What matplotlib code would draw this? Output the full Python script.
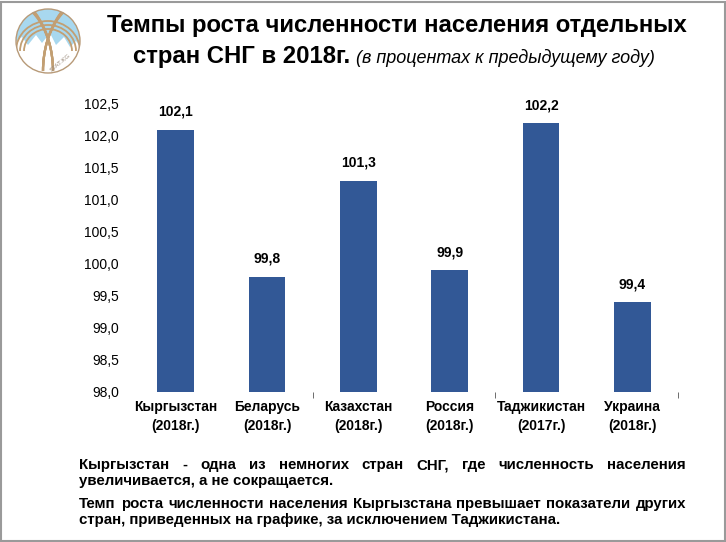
import numpy as np
import matplotlib
matplotlib.use("Agg")
import matplotlib.pyplot as plt
from matplotlib.patches import Rectangle, Circle, Polygon, Arc
from matplotlib.ticker import FixedLocator

# data
countries = ["Кыргызстан\n(2018г.)", "Беларусь\n(2018г.)", "Казахстан\n(2018г.)",
             "Россия\n(2018г.)", "Таджикистан\n(2017г.)", "Украина\n(2018г.)"]
growth = [102.1, 99.8, 101.3, 99.9, 102.2, 99.4]
y_ticks = [98.0, 98.5, 99.0, 99.5, 100.0, 100.5, 101.0, 101.5, 102.0, 102.5]

W, H = 726, 542
fig = plt.figure(figsize=(W / 100, H / 100), dpi=100)
fig.patch.set_facecolor("white")

sans = ["Liberation Sans", "DejaVu Sans"]

# slide border
fig.patches.append(Rectangle((0.002, 0.002), 0.996, 0.994, transform=fig.transFigure,
                             fill=False, edgecolor="#9a9a9a", linewidth=1.5))

# chart
ax = fig.add_axes([130 / W, 1 - 392 / H, 548 / W, 288 / H])
x = np.arange(len(countries))
ax.bar(x, [g - 98.0 for g in growth], bottom=98.0, width=0.4, color="#325896")
ax.set_xlim(-0.5, len(countries) - 0.5)
ax.set_ylim(98.0, 102.5)
ax.set_yticks(y_ticks)
ax.set_yticklabels([f"{v:.1f}".replace(".", ",") for v in y_ticks], family=sans, fontsize=10)
ax.set_xticks(x)
ax.set_xticklabels(countries, family=sans, fontsize=10, fontweight="bold", linespacing=1.4)
ax.xaxis.set_minor_locator(FixedLocator([1.5, 3.5, 5.5]))
ax.tick_params(axis="x", which="major", length=0, pad=6)
ax.tick_params(axis="x", which="minor", length=4, color="#555555", direction="out")
ax.tick_params(axis="y", length=0, pad=8)
for s in ax.spines.values():
    s.set_visible(False)
for xi, g in zip(x, growth):
    ax.annotate(f"{g:.1f}".replace(".", ","), (xi, g), xytext=(0, 8), textcoords="offset points",
                ha="center", va="bottom", family=sans, fontsize=10, fontweight="bold")

# title
fig.text(397 / W, 1 - 32 / H, "Темпы роста численности населения отдельных", ha="center",
         va="baseline", family=sans, fontsize=17.2, fontweight="bold")
t2 = fig.text(133 / W, 1 - 63 / H, "стран СНГ в 2018г.", ha="left", va="baseline",
              family=sans, fontsize=17.2, fontweight="bold")
fig.canvas.draw()
r = fig.canvas.get_renderer()
bb = t2.get_window_extent(r)
fig.text((bb.x1 + 6) / W, 1 - 63 / H, "(в процентах к предыдущему году)", ha="left", va="baseline",
         family=sans, fontsize=13, style="italic")

# logo
lax = fig.add_axes([(48 - 36) / W, 1 - (41 + 36) / H, 72 / W, 72 / H])
lax.set_xlim(-36, 36)
lax.set_ylim(-36, 36)
lax.set_aspect("equal")
lax.axis("off")
clip = Circle((0, 0), 32, transform=lax.transData)
lax.add_patch(Circle((0, 0), 32, facecolor="#a8d8ef", edgecolor="none"))
mountains = Polygon([(-34, -2), (-26, 4), (-20, -4), (-12, 6), (-6, -2), (2, 8), (8, -4),
                     (16, 4), (22, -6), (28, 0), (34, -8), (34, -34), (-34, -34)],
                    facecolor="white", edgecolor="none", zorder=2)
lax.add_patch(mountains)
mountains.set_clip_path(clip)
for k in range(4):
    for sgn in (1, -1):
        a = Arc((sgn * (40 + k * 5), -30), 2 * (45 + k * 5), 2 * (70 + k * 4),
                theta1=90 if sgn > 0 else 0, theta2=180 if sgn > 0 else 90,
                color="#c29f73", linewidth=1.6, zorder=3)
        lax.add_patch(a)
        a.set_clip_path(clip)
for k in range(3):
    a = Arc((0, -10), 64 - k * 8, 60 - k * 8, theta1=0, theta2=180, color="#c29f73",
            linewidth=1.3, zorder=3)
    lax.add_patch(a)
    a.set_clip_path(clip)
lax.add_patch(Circle((0, 0), 32, facecolor="none", edgecolor="#b89a78", linewidth=1.0, zorder=4))
lax.text(12, -22, "STAT.KG", fontsize=4.5, rotation=40, color="#9a8a7a", ha="center", va="center",
         zorder=5)

# bottom justified paragraph
x0, x1 = 79, 686
fs = 10.8
lines = [
    ("Кыргызстан - одна из немногих стран СНГ, где численность населения", True, 469),
    ("увеличивается, а не сокращается.", False, 485),
    ("Темп роста численности населения Кыргызстана превышает показатели других", True, 508),
    ("стран, приведенных на графике, за исключением Таджикистана.", False, 524),
]
for text, justify, ypix in lines:
    y = 1 - ypix / H
    if not justify:
        fig.text(x0 / W, y, text, ha="left", va="baseline", family=sans, fontsize=fs,
                 fontweight="bold")
        continue
    words = text.split()
    objs = [fig.text(0, y, w, ha="left", va="baseline", family=sans, fontsize=fs,
                     fontweight="bold") for w in words]
    widths = [o.get_window_extent(r).width for o in objs]
    gap = (x1 - x0 - sum(widths)) / (len(words) - 1)
    pos = x0
    for o, wd in zip(objs, widths):
        o.set_x(pos / W)
        pos += wd + gap

fig.savefig("out.png", dpi=100, facecolor="white")
